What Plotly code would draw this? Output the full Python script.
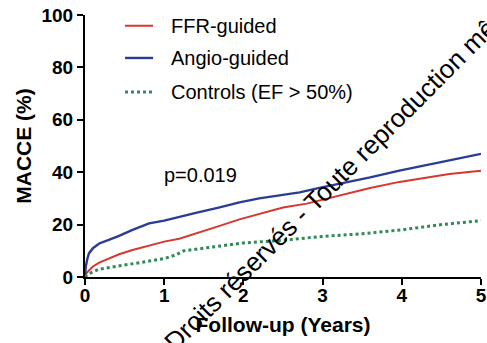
import plotly.graph_objects as go

# Kaplan-Meier style cumulative MACCE (%)
t_ffr = [0, 0.02, 0.05, 0.1, 0.18, 0.3, 0.43, 0.6, 0.81, 1.0, 1.19, 1.4, 1.7, 1.95, 2.2, 2.5, 2.8, 3.0, 3.26, 3.6, 3.97, 4.3, 4.6, 5.0]
ffr = [0, 1.5, 2.5, 4.0, 5.5, 7.0, 8.7, 10.3, 12.0, 13.5, 14.6, 16.5, 19.5, 22.0, 24.0, 26.5, 28.0, 29.5, 31.5, 34.0, 36.3, 38.0, 39.3, 40.6]

t_angio = [0, 0.01, 0.03, 0.05, 0.1, 0.18, 0.3, 0.43, 0.6, 0.81, 1.0, 1.19, 1.4, 1.7, 1.95, 2.2, 2.5, 2.71, 2.96, 3.3, 3.6, 3.97, 4.3, 4.6, 5.0]
angio = [0, 4.0, 7.0, 9.0, 11.0, 12.8, 14.2, 15.7, 18.0, 20.5, 21.5, 23.0, 24.5, 26.6, 28.5, 30.0, 31.3, 32.3, 34.0, 36.0, 38.0, 40.6, 42.5, 44.5, 47.0]

t_ctrl = [0, 0.05, 0.18, 0.43, 0.81, 1.0, 1.15, 1.25, 1.5, 1.7, 2.0, 2.5, 3.0, 3.5, 4.0, 4.5, 5.0]
ctrl = [0, 1.3, 3.0, 4.2, 6.1, 7.0, 8.5, 10.0, 11.0, 11.9, 13.0, 14.0, 15.5, 16.5, 18.0, 20.0, 21.5]

names = ["FFR-guided", "Angio-guided", "Controls (EF > 50%)"]
x_ticks = [0, 1, 2, 3, 4, 5]
y_ticks = [0, 20, 40, 60, 80, 100]
p_text = "p=0.019"
watermark = "Droits réservés - Toute reproduction même"

FONT = "Liberation Sans, Arial, Helvetica, sans-serif"
styles = [
    dict(color="#d8372d", width=2),
    dict(color="#2a3c94", width=2.4),
    dict(color="#2f8a55", width=3, dash="dot"),
]

fig = go.Figure()
for (tx, ty), name, st in zip([(t_ffr, ffr), (t_angio, angio), (t_ctrl, ctrl)], names, styles):
    fig.add_trace(go.Scatter(x=tx, y=ty, mode="lines", name=name, line=st, showlegend=False))

axis_common = dict(
    showgrid=False, zeroline=False, showline=True, linecolor="black", linewidth=2,
    ticks="outside", ticklen=6, tickwidth=2, tickcolor="black", automargin=False,
    tickfont=dict(family=FONT, size=19, color="black", weight="bold"),
)
fig.update_xaxes(range=[0, 5], tickvals=x_ticks, ticklabelstandoff=-6, **axis_common,
                 title=dict(text="Follow-up (Years)", standoff=13,
                            font=dict(family=FONT, size=21, color="black", weight="bold")))
fig.update_yaxes(range=[0, 100], tickvals=y_ticks, **axis_common,
                 title=dict(text="MACCE (%)", standoff=4,
                            font=dict(family=FONT, size=21, color="black", weight="bold")))

# manual legend
leg_y = [0.959, 0.836, 0.706]
for name, st, yy in zip(names, styles, leg_y):
    fig.add_shape(type="line", xref="paper", yref="paper", x0=0.101, x1=0.172, y0=yy, y1=yy,
                  line=st)
    fig.add_annotation(x=0.212, y=yy, xref="paper", yref="paper", text=name, showarrow=False,
                       xanchor="left", yanchor="middle",
                       font=dict(family=FONT, size=20, color="black"))

fig.add_annotation(x=0.975, y=39, xref="x", yref="y", text=p_text, showarrow=False,
                   xanchor="left", yanchor="middle",
                   font=dict(family=FONT, size=20, color="black"))

# watermark text
fig.add_annotation(x=0.652, y=0.40, xref="paper", yref="paper",
                   text=watermark, showarrow=False,
                   textangle=-45, font=dict(family=FONT, size=26, color="black"))

fig.update_layout(
    width=487, height=343,
    margin=dict(l=85, r=6, t=15, b=66),
    paper_bgcolor="white", plot_bgcolor="white",
    showlegend=False,
)

fig.write_html("out.html")
